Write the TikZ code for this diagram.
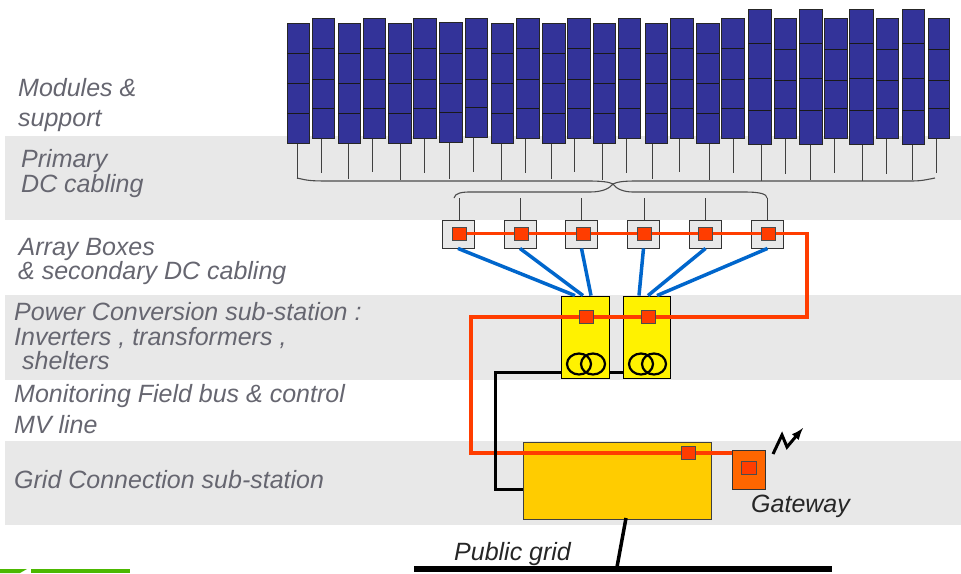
\documentclass[tikz,border=0pt]{standalone}
\usepackage{fontspec}
\setmainfont{Liberation Sans}
\usepackage{color}
\usetikzlibrary{shapes,arrows,positioning,calc,backgrounds}
\definecolor{bandgray}{HTML}{E8E8E8}
\definecolor{labgray}{HTML}{666670}
\definecolor{modblue}{HTML}{333399}
\definecolor{wirered}{HTML}{FF3D00}
\definecolor{cblue}{HTML}{0066CC}

\begin{document}
\begin{tikzpicture}[x=1pt, y=-1pt,
        lab/.style={anchor=base west, inner sep=0pt, text=labgray, font=\fontsize{25}{25}\selectfont\itshape},
        blab/.style={lab, text=black!85},
        band/.style={fill=bandgray, draw=none},
        panel/.style={rectangle, draw=black!85, line width=1pt, fill=modblue, inner sep=0pt},
        cable/.style={draw=black!75, line width=1pt},
        abox/.style={rectangle, draw=black!80, line width=0.9pt, fill=bandgray, minimum width=32pt, minimum height=28pt, inner sep=0pt},
        inv/.style={rectangle, draw=black, line width=0.9pt, fill=yellow, minimum width=47.5pt, minimum height=82pt, inner sep=0pt},
        sqr/.style={rectangle, draw=black!70, line width=0.8pt, fill=wirered, minimum width=14pt, minimum height=13pt, inner sep=0pt},
        coil/.style={ellipse, draw=black, line width=2.2pt, minimum width=24pt, minimum height=21pt, inner sep=0pt},
        redw/.style={draw=wirered, line width=3.3pt},
        bluew/.style={draw=cblue, line width=3.5pt},
        blackw/.style={draw=black, line width=3pt}]

    \useasboundingbox (0,0) rectangle (961,573);

    \begin{scope}[on background layer]
        % bands
        \path[band] (5,136) rectangle (961,220);
        \path[band] (5,295) rectangle (961,380);
        \path[band] (5,441) rectangle (961,525);
        \fill[green!60!black!70!yellow] (0,569) -- (27,569) -- (20,573) -- (0,573) -- cycle;
        \fill[green!60!black!70!yellow] (31,569) rectangle (130,573);

        % modules
        \foreach \n/\xa/\xb/\ya/\yb/\da/\db/\dc/\cx/\cy in {
            1/287/309/23/143/53/83/113/297/179, 2/312/334/18/138/48/79/108/321/173,
            3/338/360/23/143/53/83/113/348/179, 4/363/385/18/138/48/79/108/372/172,
            5/388/411/23/143/53/83/113/400/180, 6/413/436/18/138/48/79/108/424/173,
            7/439/462/22/142/53/83/112/449/179, 8/465/487/18/137/48/79/107/473/172,
            9/491/513/23/143/53/83/113/501/180, 10/516/539/18/138/48/79/108/525/173,
            11/542/565/23/143/53/83/113/551/179, 12/567/590/18/138/48/79/108/574/172,
            13/593/615/23/143/53/83/113/602/180, 14/618/640/18/138/48/79/108/626/173,
            15/645/667/23/143/53/83/113/652/179, 16/670/693/18/138/48/79/108/679/172,
            17/696/719/23/143/53/83/113/709/180, 18/721/744/18/138/48/79/108/733/173,
            19/748/771/9/144/43/78/110/761/181, 20/774/796/18/138/49/80/108/785/174,
            21/799/822/9/144/43/78/110/810/180, 22/824/847/18/138/49/80/108/834/173,
            23/849/873/9/144/43/78/110/862/181, 24/876/898/18/138/49/80/108/886/174,
            25/902/924/9/144/43/78/110/912/180, 26/928/949/18/138/49/80/108/936/173} {
            \pgfmathsetmacro{\w}{\xb-\xa}
            \pgfmathsetmacro{\h}{\yb-\ya}
            \node[panel, minimum width=\w pt, minimum height=\h pt] (m\n) at ({(\xa+\xb)/2},{(\ya+\yb)/2}) {};
            \foreach \d in {\da,\db,\dc}
                \draw[black!90, line width=0.9pt] (\xa,\d) -- (\xb,\d);
            \coordinate (c\n) at (\cx,\cy);
            \draw[cable] (m\n.south -| c\n) -- (c\n);
        }

        % braces
        \draw[black!70, line width=1.1pt] (297,178) .. controls (310,181) .. (337,181) -- (587,181) .. controls (603,181) and (609,182) .. (613,184)
            .. controls (617,182) and (622,181) .. (637,181) -- (905,181) .. controls (920,181) .. (935,178);
        \draw[black!70, line width=1.1pt] (454,198) .. controls (455,193) and (462,192) .. (470,192) -- (590,192) .. controls (603,192) and (610,188) .. (613,184)
            .. controls (616,189) and (624,192) .. (633,192) -- (745,192) .. controls (760,192) and (767,194) .. (767,198);

        % array boxes
        \foreach \i/\bx/\dx in {1/458/459, 2/520/520, 3/581.5/581, 4/643.5/644, 5/705.5/705, 6/767.5/767} {
            \node[abox] (b\i) at (\bx,234) {};
            \coordinate (d\i) at (\dx,198);
            \draw[cable] (d\i) -- (b\i.north -| d\i);
        }

        % stations
        \node[inv] (y1) at (585.5,337) {};
        \node[inv] (y2) at (647,337) {};
        \node[rectangle, draw=black!75, line width=0.9pt, fill={rgb,255:red,255;green,204;blue,0}, minimum width=188pt, minimum height=77pt, inner sep=0pt] (grid) at (617,480.5) {};
        \node[rectangle, draw=black!80, line width=0.9pt, fill={rgb,255:red,255;green,102;blue,0}, minimum width=33pt, minimum height=39pt, inner sep=0pt] (gw) at (748.5,469.5) {};
        \node[coil] (t1a) at (579,364) {};
        \node[coil] (t1b) at (593,364) {};
        \node[coil] (t2a) at (641,364) {};
        \node[coil] (t2b) at (654,364) {};
    \end{scope}

    % red squares
    \foreach \i/\bx in {1/459, 2/521, 3/583, 4/644, 5/705, 6/768}
        \node[sqr] (s\i) at (\bx,233.5) {};
    \node[sqr] (s7) at (586.5,317) {};
    \node[sqr] (s8) at (648,317) {};
    \node[sqr] (s9) at (688,453) {};
    \node[sqr, minimum width=15.5pt] (s10) at (749,467.5) {};

    \coordinate (ra) at (807,233.5);
    \coordinate (rb) at (807,317);
    \coordinate (rc) at (471,317);
    \coordinate (rd) at (471,453);
    \coordinate (ka) at (495,372);
    \coordinate (kb) at (495,489);
    \coordinate (tap) at (626,518);
    \coordinate (tapb) at (617,567);

    \begin{scope}[on background layer]
        \draw[redw] (s1.center) -- (s6.center) -- (ra) -- (rb) -- (s8.center) -- (s7.center) -- (rc) -- (rd) -- (s9.center) -- (gw.west |- s9);
        \foreach \i/\t/\o in {1/y1/-10.5, 2/y1/-2.5, 3/y1/5.5, 4/y2/-8, 5/y2/1, 6/y2/10}
            \draw[bluew] (b\i.south) -- ([xshift=\o pt]\t.north);
        \draw[blackw] (y1.west |- ka) -- (ka) -- (kb) -- (grid.west |- kb);
        \draw[blackw] (y1.east |- ka) -- (y2.west |- ka);
    \end{scope}

    % public grid
    \node[rectangle, fill=black, minimum width=418pt, minimum height=5.5pt, inner sep=0pt] (pub) at (623,569) {};
    \draw[blackw, line width=3.5pt] (tap) -- (tapb);

    % radio link
    \draw[blackw, -latex, line width=3pt] (773,454) -- (782,435) -- (787,447) -- (803,428);

    % labels
    \node[lab] (l1) at (18,96) {Modules \&};
    \node[lab] (l2) at (18,126) {support};
    \node[lab] (l3) at (21,167) {Primary};
    \node[lab] (l4) at (21,192) {DC cabling};
    \node[lab] (l5) at (18.5,255) {Array Boxes};
    \node[lab] (l6) at (18,279) {\& secondary DC cabling};
    \node[lab] (l7) at (14,320) {Power Conversion sub-station :};
    \node[lab] (l8) at (14,345) {Inverters , transformers ,};
    \node[lab] (l9) at (22,369) {shelters};
    \node[lab] (l10) at (14,402) {Monitoring Field bus \& control};
    \node[lab] (l11) at (14,433) {MV line};
    \node[lab] (l12) at (14,488) {Grid Connection sub-station};
    \node[blab] (gwl) at (751,512) {Gateway};
    \node[blab] (publ) at (454,560) {Public grid};
\end{tikzpicture}
\end{document}
